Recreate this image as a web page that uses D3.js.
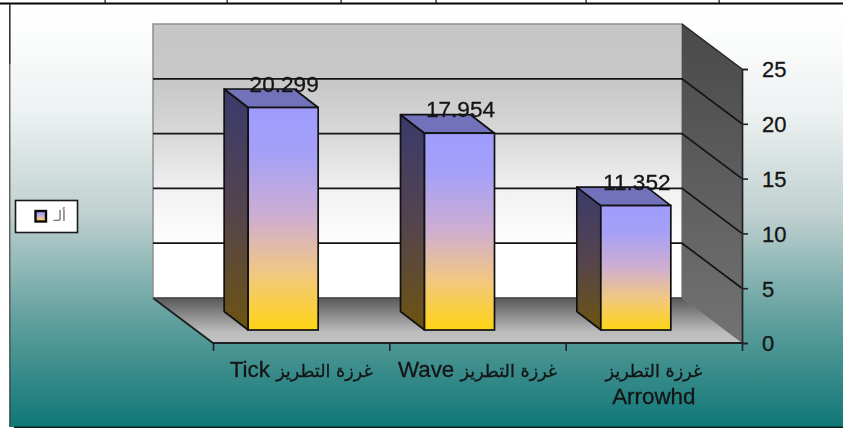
<!DOCTYPE html>
<html><head><meta charset="utf-8">
<script src="https://cdn.jsdelivr.net/npm/d3@7"></script>
<style>
html,body{margin:0;padding:0;background:#fff;overflow:hidden}
svg{display:block;filter:blur(0.55px)}
text{font-family:"Liberation Sans",Arial,sans-serif;fill:#141414;stroke:#141414;stroke-width:0.3px}
.ar{font-family:"DejaVu Sans",sans-serif}
</style></head><body>
<svg id="c" width="843" height="428"></svg>
<script>
const arabicPrefix = "غرزة التطريز";
const categories = ["Tick", "Wave", "Arrowhd"];
const values = [20.299, 17.954, 11.352];
const valueLabels = ["20.299", "17.954", "11.352"];
const yTicks = [0, 5, 10, 15, 20, 25];
const legendLabel = "ألـ";
const tableTicks = [105, 227, 341, 436, 586, 719];

const svg = d3.select("#c");
const defs = svg.append("defs");
function grad(id, stops){
  const g = defs.append("linearGradient").attr("id", id)
    .attr("x1", 0).attr("x2", 0).attr("y1", 0).attr("y2", 1);
  stops.forEach(s => g.append("stop").attr("offset", s[0]).attr("stop-color", s[1]));
}
grad("bg", [[0,"#ffffff"],[0.07,"#fcfdfd"],[0.25,"#eef2f2"],[0.5,"#bed0cf"],[0.75,"#5f9f9d"],[1,"#107777"]]);
grad("wall", [[0,"#c6c6c6"],[0.22,"#c8c8c8"],[0.42,"#dadada"],[0.62,"#f2f2f2"],[0.82,"#ffffff"],[1,"#ffffff"]]);
grad("side", [[0,"#494949"],[1,"#737373"]]);
grad("floor", [[0,"#595959"],[0.75,"#bcbcbc"],[1,"#c2c2c2"]]);
grad("front", [[0,"#a09cff"],[0.2,"#a4a0f8"],[0.5,"#cfaed0"],[0.75,"#f2c880"],[1,"#ffd414"]]);
grad("barSide", [[0,"#3a3a6c"],[0.5,"#54444e"],[1,"#6d5410"]]);

svg.append("rect").attr("x", 10).attr("y", 4).attr("width", 833).attr("height", 423).attr("fill", "url(#bg)");

const depthX = -60, depthY = -45;
const y = d3.scaleLinear().domain([0, 25]).range([343, 69]);
const x = d3.scaleBand().domain(categories).range([213, 742]);
const ticksX = d3.scaleLinear().domain([0, 3]).range([213, 742]);
const xL = x.range()[0], xR = x.range()[1], y0 = y(0), yT = y(25);

const poly = pts => pts.map(p => p.join(",")).join(" ");

svg.append("rect").attr("x", xL + depthX).attr("y", yT + depthY)
  .attr("width", xR - xL).attr("height", y0 - yT).attr("fill", "url(#wall)")
  .attr("stroke", "#8f8f8f").attr("stroke-width", 1.5);
svg.append("polygon").attr("points", poly([[xR+depthX,yT+depthY],[xR,yT],[xR,y0],[xR+depthX,y0+depthY]]))
  .attr("fill", "url(#side)");
svg.append("polygon").attr("points", poly([[xL+depthX,y0+depthY],[xR+depthX,y0+depthY],[xR,y0],[xL,y0]]))
  .attr("fill", "url(#floor)");
svg.append("path").attr("d", `M${xL+depthX},${y0+depthY}L${xL},${y0}L${xR},${y0}`)
  .attr("fill", "none").attr("stroke", "#1c2222").attr("stroke-width", 1.9);
svg.append("line").attr("x1", xL+depthX).attr("x2", xR+depthX).attr("y1", y0+depthY).attr("y2", y0+depthY)
  .attr("stroke", "#4a4a4a").attr("stroke-width", 1.5);
svg.append("line").attr("x1", xR+depthX).attr("x2", xR).attr("y1", yT+depthY).attr("y2", yT).attr("stroke", "#222").attr("stroke-width", 1.4);

yTicks.filter(d => d > 0 && d < 25).forEach(d => {
  svg.append("path").attr("d", `M${xL+depthX},${y(d)+depthY}L${xR+depthX},${y(d)+depthY}L${xR},${y(d)}`)
    .attr("fill", "none").attr("stroke", "#141414").attr("stroke-width", 1.7);
});

const yAxis = svg.append("g").attr("transform", `translate(${xR},0)`)
  .call(d3.axisRight(y).tickValues(yTicks).tickSize(6).tickPadding(14).tickFormat(d3.format("d")));
yAxis.select(".domain").attr("stroke", "#222").attr("stroke-width", 1.7);
yAxis.selectAll("line").attr("stroke", "#222").attr("stroke-width", 1.6);
yAxis.selectAll("text").attr("font-size", 22).attr("font-family", "Liberation Sans")
  .attr("dy", "0.36em").attr("text-anchor", "start");

const xAxis = svg.append("g").attr("transform", `translate(0,${y0})`)
  .call(d3.axisBottom(ticksX).tickValues([0,1,2,3]).tickSize(8).tickFormat(""));
xAxis.select(".domain").remove();
xAxis.selectAll("line").attr("stroke", "#222").attr("stroke-width", 1.6);

const barW = 70, off = 18, bdx = -24, bdy = -18.5, bBase = 330;
const h = d => y(0) - y(d);
const bars = svg.append("g").selectAll("g").data(categories).join("g");
bars.each(function(c, i){
  const g = d3.select(this);
  const l = x(c) + x.bandwidth()/2 - off - barW/2, r = l + barW;
  const b = bBase, t = bBase - h(values[i]);
  g.append("polygon").attr("points", poly([[l+bdx,t+bdy],[l,t],[l,b],[l+bdx,b+bdy]]))
    .attr("fill", "url(#barSide)").attr("stroke", "#111").attr("stroke-width", 1.7).attr("stroke-linejoin", "round");
  g.append("polygon").attr("points", poly([[l+bdx,t+bdy],[r+bdx,t+bdy],[r,t],[l,t]]))
    .attr("fill", "#7272ba").attr("stroke", "#111").attr("stroke-width", 1.7).attr("stroke-linejoin", "round");
  g.append("rect").attr("x", l).attr("y", t).attr("width", barW).attr("height", b - t)
    .attr("fill", "url(#front)").attr("stroke", "#111").attr("stroke-width", 1.7);
  g.append("text").attr("x", l + barW/2 + 1).attr("y", t - 16).attr("text-anchor", "middle")
    .attr("font-size", 22.6).text(valueLabels[i]);
});

const arSize = 17.6, latSize = 22.4;
categories.forEach((c, i) => {
  const cx = x(c) + x.bandwidth()/2;
  const two = c === "Arrowhd";
  const t = svg.append("text").attr("x", cx).attr("y", 377).attr("text-anchor", "middle")
    .style("direction", "rtl");
  t.append("tspan").attr("class", "ar").attr("font-size", arSize).text(arabicPrefix);
  if (two) {
    svg.append("text").attr("x", cx).attr("y", 404).attr("text-anchor", "middle")
      .attr("font-size", latSize).text(c);
  } else {
    t.append("tspan").attr("font-size", latSize).text("\u00A0" + c);
  }
});

const lg = svg.append("g");
lg.append("rect").attr("x", 15.5).attr("y", 200.5).attr("width", 62).attr("height", 32)
  .attr("fill", "#ffffff").attr("stroke", "#1a1a1a").attr("stroke-width", 1.6);
lg.append("rect").attr("x", 35.5).attr("y", 211).attr("width", 10.5).attr("height", 10.5)
  .attr("fill", "url(#front)").attr("stroke", "#0a0a0a").attr("stroke-width", 2.4);
lg.append("text").attr("class", "ar").attr("x", 66).attr("y", 221).attr("text-anchor", "end")
  .attr("font-size", 14).style("fill", "#777").style("stroke", "#888").style("stroke-width", "0.2px").text(legendLabel);

svg.append("rect").attr("x", 0).attr("y", 2.5).attr("width", 843).attr("height", 2).attr("fill", "#050505");
tableTicks.forEach(tx => svg.append("rect").attr("x", tx - 0.5).attr("y", 0).attr("width", 1.2).attr("height", 3).attr("fill", "#111"));
svg.append("rect").attr("x", 9).attr("y", 4).attr("width", 1.6).attr("height", 60).attr("fill", "#333");
svg.append("rect").attr("x", 9.3).attr("y", 64).attr("width", 1).attr("height", 363).attr("fill", "#222");
svg.append("rect").attr("x", 14).attr("y", 426.6).attr("width", 829).attr("height", 1.4).attr("fill", "#0a1a1a");
</script>
</body></html>
